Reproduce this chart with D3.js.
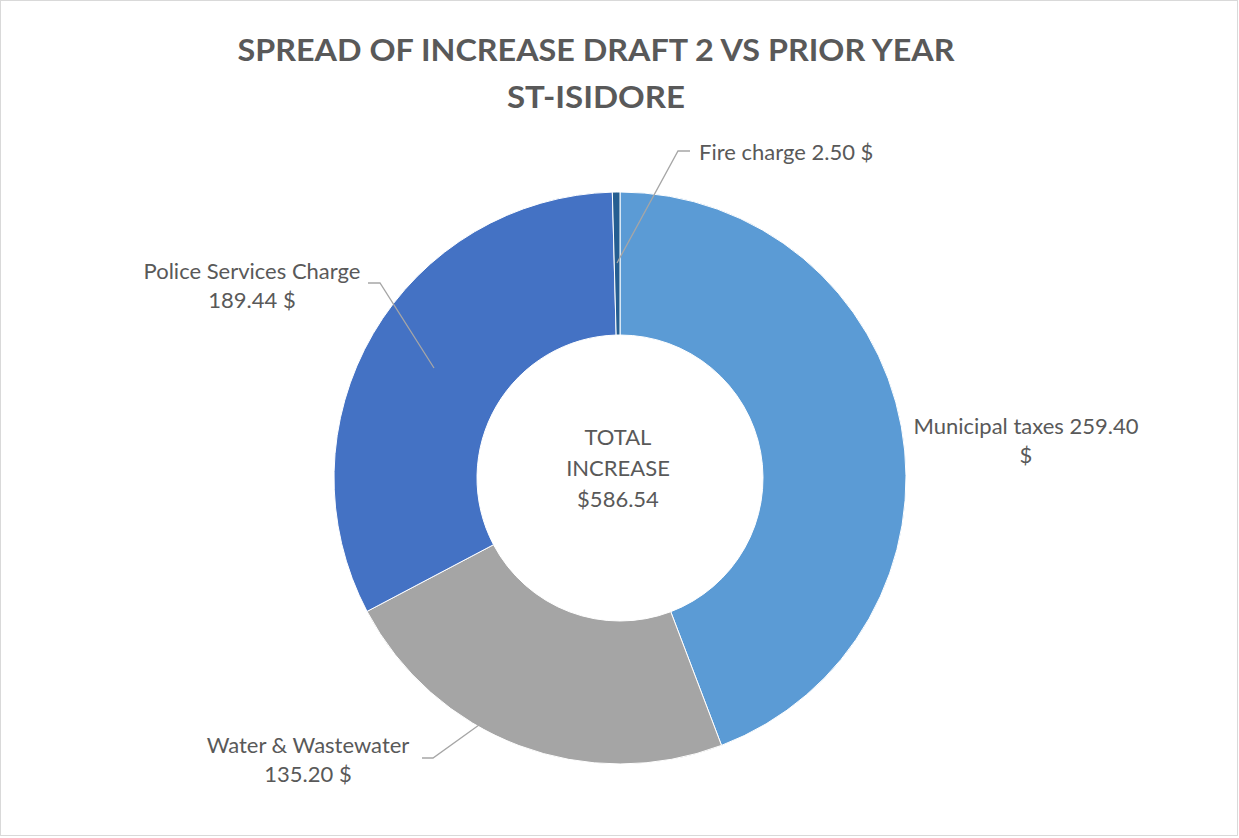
<!DOCTYPE html>
<html><head><meta charset="utf-8">
<script src="https://cdn.jsdelivr.net/npm/d3@7"></script>
<style>body{margin:0;background:#fff}svg{display:block}</style>
</head><body>
<svg id="c" width="1239" height="838"></svg>
<script>
const categories = ["Municipal taxes", "Water & Wastewater", "Police Services Charge", "Fire charge"];
const values = [259.40, 135.20, 189.44, 2.50];
const colors = ["#5B9BD5", "#A5A5A5", "#4472C4", "#255E91"];
const labelLines = [["Municipal taxes 259.40", "$"], ["Water & Wastewater", "135.20 $"], ["Police Services Charge", "189.44 $"], ["Fire charge 2.50 $"]];
const titleLines = ["SPREAD OF INCREASE DRAFT 2 VS PRIOR YEAR", "ST-ISIDORE"];
const centerLines = ["TOTAL", "INCREASE", "$586.54"];

const svg = d3.select("#c");
const font = "Lato, 'Open Sans', sans-serif";
svg.append("rect").attr("x",0.5).attr("y",0.5).attr("width",1237).attr("height",835)
  .attr("fill","#fff").attr("stroke","#D9D9D9");

// title
svg.append("text").attr("x",596).attr("y",61).attr("text-anchor","middle")
  .attr("font-family",font).attr("font-weight","bold").attr("font-size",31).attr("fill","#595959")
  .attr("textLength",717).attr("lengthAdjust","spacingAndGlyphs").text(titleLines[0]);
svg.append("text").attr("x",596).attr("y",108).attr("text-anchor","middle")
  .attr("font-family",font).attr("font-weight","bold").attr("font-size",31).attr("fill","#595959")
  .attr("textLength",178).attr("lengthAdjust","spacingAndGlyphs").text(titleLines[1]);

const cx = 620, cy = 478, R = 286, r = 143;
const pie = d3.pie().sort(null).value(d => d)(values);
const arc = d3.arc().innerRadius(r).outerRadius(R);
const g = svg.append("g").attr("transform",`translate(${cx},${cy})`);
g.selectAll("path").data(pie).join("path")
  .attr("d",arc).attr("fill",(d,i)=>colors[i]).attr("stroke","#fff").attr("stroke-width",1);

// center text
centerLines.forEach((t,i)=>{
  svg.append("text").attr("x",618).attr("y",445+i*31).attr("text-anchor","middle")
    .attr("font-family",font).attr("font-size",22).attr("fill","#595959").text(t);
});

// leader lines
const leaders = [
  null,
  [[422,758],[433,758],[479,725]],
  [[368,283],[380,283],[434,368]],
  [[690,151],[678,151],[617,263]]
];
leaders.forEach(p=>{
  if(!p) return;
  svg.append("path").attr("d",d3.line()(p)).attr("fill","none").attr("stroke","#A6A6A6").attr("stroke-width",1.3);
});

// labels
const labelPos = [
  {x:1026, y:434, anchor:"middle"},
  {x:308, y:753, anchor:"middle"},
  {x:252, y:279, anchor:"middle"},
  {x:699, y:160, anchor:"start"}
];
labelLines.forEach((lines,i)=>{
  const p = labelPos[i];
  lines.forEach((t,j)=>{
    svg.append("text").attr("x",p.x).attr("y",p.y+j*29).attr("text-anchor",p.anchor)
      .attr("font-family",font).attr("font-size",22).attr("fill","#595959").text(t);
  });
});
</script>
</body></html>
